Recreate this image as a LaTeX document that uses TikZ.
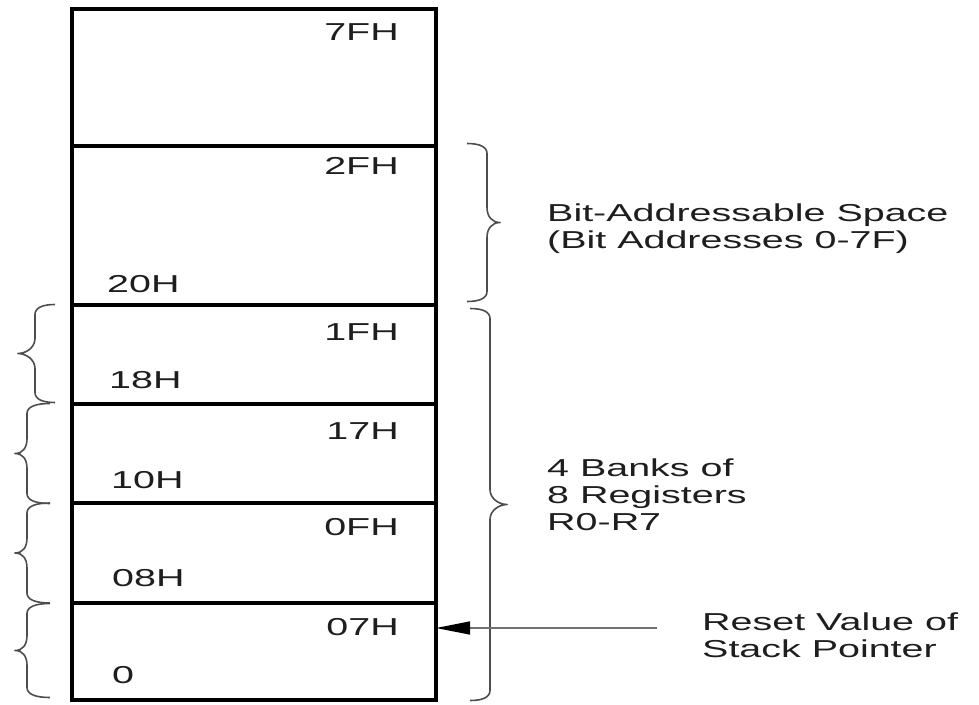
\documentclass[tikz,border=0pt]{standalone}
\usepackage{fontspec}
\newfontfamily\memfont{Liberation Sans}[FakeStretch=1.61]
\usepackage{tikz}
\usetikzlibrary{positioning,arrows.meta,calc}
\definecolor{mink}{HTML}{1E1E1E}
\definecolor{mbrc}{HTML}{4D4D4D}
\definecolor{mptr}{HTML}{707070}
% brace: [scope opts]{mid point}{half height}{spine}{tip}
\newcommand{\regbrace}[5][]{%
  \begin{scope}[shift={#2},#1]
    \draw[brc] (0,-#3) .. controls (0.6*#4,-#3) and (#4,-#3+3) .. (#4,-#3+10)
      -- (#4,-15) .. controls (#4,-6) and (#5-8,0) .. (#5,0)
      .. controls (#5-8,0) and (#4,6) .. (#4,15)
      -- (#4,#3-10) .. controls (#4,#3-3) and (0.6*#4,#3) .. (0,#3);
  \end{scope}}
\tikzset{
  memrow/.style={draw=black, line width=3.4pt, minimum width=364pt,
                 inner sep=0pt, outer sep=0pt},
  addr/.style  ={font=\memfont\fontsize{24.5}{27}\selectfont, text=mink, inner sep=0pt},
  note/.style  ={addr, align=left},
  brc/.style   ={draw=mbrc, line width=1.6pt, line join=round},
  ptr/.style   ={-{Triangle[length=34pt,width=13pt,color=black]}, draw=mptr, line width=1.5pt},
}
\begin{document}
\begin{tikzpicture}[x=1pt, y=-1pt]
  \useasboundingbox (0,0) rectangle (979,704);

  % memory rows
  \node[memrow, minimum height=137pt, anchor=north] (r7F) at (254,9) {};
  \node[memrow, minimum height=159pt, below=0pt of r7F] (r2F) {};
  \node[memrow, minimum height=99pt,  below=0pt of r2F] (r1F) {};
  \node[memrow, minimum height=99pt,  below=0pt of r1F] (r17) {};
  \node[memrow, minimum height=100pt, below=0pt of r17] (r0F) {};
  \node[memrow, minimum height=97pt,  below=0pt of r0F] (r07) {};

  % top / bottom addresses
  \node[addr, anchor=base east] (t7F) at ($(r7F.north east)+(-37,31)$) {7FH};
  \node[addr, anchor=base east] (t2F) at ($(r2F.north east)+(-37,28)$) {2FH};
  \node[addr, anchor=base east] (t1F) at ($(r1F.north east)+(-37,35)$) {1FH};
  \node[addr, anchor=base east] (t17) at ($(r17.north east)+(-37,35)$) {17H};
  \node[addr, anchor=base east] (t0F) at ($(r0F.north east)+(-37,32)$) {0FH};
  \node[addr, anchor=base east] (t07) at ($(r07.north east)+(-37,32)$) {07H};
  \node[addr, anchor=base west] (b20) at ($(r2F.south west)+(35,-13)$) {20H};
  \node[addr, anchor=base west] (b18) at ($(r1F.south west)+(37,-16)$) {18H};
  \node[addr, anchor=base west] (b10) at ($(r17.south west)+(39,-15)$) {10H};
  \node[addr, anchor=base west] (b08) at ($(r0F.south west)+(40,-17)$) {08H};
  \node[addr, anchor=base west] (b00) at ($(r07.south west)+(40,-17)$) {0};

  % braces
  \regbrace{($(r2F.east)+(31,-3)$)}{79}{20}{33}
  \regbrace{($(r1F.north east)!0.5!(r07.south east)+(34,2)$)}{196}{20}{37}
  \regbrace[xscale=-1]{($(r1F.west)+(-17,-1)$)}{49}{20}{37}
  \regbrace[xscale=-1]{($(r17.west)+(-22,0)$)}{50}{23}{35}
  \regbrace[xscale=-1]{($(r0F.west)+(-22,0)$)}{50}{23}{35}
  \regbrace[xscale=-1]{($(r07.west)+(-22,-1)$)}{47}{23}{35}

  % notes (anchored at last baseline)
  \node[note, anchor=base west] (bitnote) at (547,248) {Bit-Addressable Space\\(Bit Addresses 0-7F)};
  \node[note, anchor=base west] (banknote) at (547,530) {4 Banks of\\8 Registers\\R0-R7};
  \node[note, anchor=base west] (spnote) at (702,657) {Reset Value of\\Stack Pointer};

  \coordinate (sptail) at (657,628);
  \draw[ptr] (sptail) -- (sptail -| r07.east);
\end{tikzpicture}
\end{document}
